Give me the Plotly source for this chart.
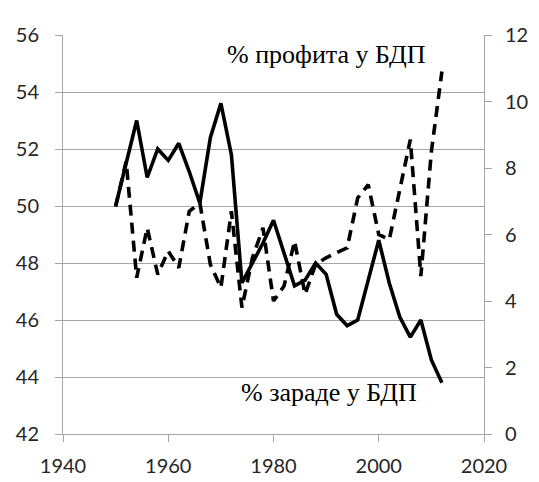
import plotly.graph_objects as go

years = [1950, 1952, 1954, 1956, 1958, 1960, 1962, 1964, 1966, 1968,
         1970, 1972, 1974, 1976, 1978, 1980, 1982, 1984, 1986, 1988,
         1990, 1992, 1994, 1996, 1998, 2000, 2002, 2004, 2006, 2008,
         2010, 2012]

wages = [50.0, 51.5, 53.0, 51.0, 52.0, 51.6, 52.2, 51.2, 50.1, 52.4,
         53.6, 51.8, 47.3, 48.0, 48.7, 49.5, 48.3, 47.2, 47.4, 48.0,
         47.6, 46.2, 45.8, 46.0, 47.4, 48.8, 47.3, 46.1, 45.4, 46.0,
         44.6, 43.8]

profits = [6.84, 8.2, 4.7, 6.2, 4.8, 5.5, 5.0, 6.7, 6.95, 5.1,
           4.4, 6.7, 3.8, 5.3, 6.2, 4.0, 4.45, 5.8, 4.2, 5.1,
           5.3, 5.45, 5.6, 7.1, 7.5, 6.0, 5.85, 7.35, 8.85, 4.75,
           8.5, 10.9]

x_ticks = [1940, 1960, 1980, 2000, 2020]
left_ticks = [42, 44, 46, 48, 50, 52, 54, 56]
right_ticks = [0, 2, 4, 6, 8, 10, 12]

label_profit = "% профита у БДП"
label_wage = "% зараде у БДП"

GRID = "#a6a6a6"
TICKFONT = dict(family="Lato", size=20, color="#262626")

fig = go.Figure()
fig.add_trace(go.Scatter(x=years, y=wages, mode="lines", yaxis="y",
                         line=dict(color="black", width=3.6)))
fig.add_trace(go.Scatter(x=years, y=profits, mode="lines", yaxis="y2",
                         line=dict(color="black", width=3.6, dash="11px,7px")))

fig.update_layout(
    width=531, height=474,
    margin=dict(l=55, r=55, t=27, b=48, autoexpand=False),
    paper_bgcolor="white", plot_bgcolor="white",
    showlegend=False,
    xaxis=dict(range=[1940, 2020], tickvals=x_ticks, showgrid=False,
               showline=True, linecolor=GRID, linewidth=1, zeroline=False,
               ticks="outside", ticklen=7, tickcolor=GRID, tickfont=TICKFONT,
               ticklabelstandoff=7, automargin=False),
    yaxis=dict(range=[42, 56], tickvals=left_ticks, showgrid=True,
               gridcolor=GRID, gridwidth=1, showline=True, linecolor=GRID,
               zeroline=False, ticks="outside", ticklen=7, tickcolor=GRID,
               tickfont=TICKFONT, ticklabelstandoff=12, automargin=False),
    yaxis2=dict(range=[0, 12], tickvals=right_ticks, overlaying="y",
                side="right", showgrid=False, showline=True, linecolor=GRID,
                zeroline=False, ticks="outside", ticklen=7, tickcolor=GRID,
                tickfont=TICKFONT, ticklabelstandoff=9, automargin=False),
    annotations=[
        dict(text=label_profit, xref="paper", yref="paper", x=0.385, y=0.952,
             xanchor="left", yanchor="middle", showarrow=False,
             font=dict(family="Liberation Serif", size=26, color="black")),
        dict(text=label_wage, xref="paper", yref="paper", x=0.418, y=0.105,
             xanchor="left", yanchor="middle", showarrow=False,
             font=dict(family="Liberation Serif", size=26, color="black")),
    ],
)

fig.write_html("out.html")
